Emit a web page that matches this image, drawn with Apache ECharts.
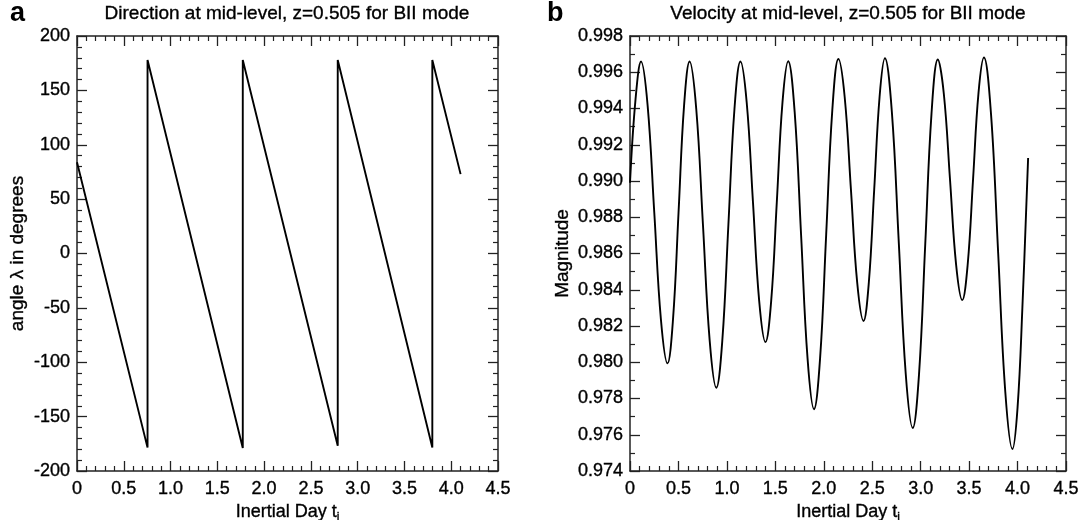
<!DOCTYPE html>
<html>
<head>
<meta charset="utf-8">
<script src="https://cdn.jsdelivr.net/npm/echarts@6/dist/echarts.min.js"></script>
<style>
  html, body { margin: 0; padding: 0; background: #fff; }
  #chart { width: 1085px; height: 520px; }
</style>
</head>
<body>
<div id="chart"></div>
<script>
// panel a: direction (sawtooth, vertical jumps kept as repeated t)
const dirT = [0, 0.754, 0.754, 1.772, 1.772, 2.787, 2.787, 3.798, 3.798, 4.10];
const dirV = [84, -178.5, 178, -178.8, 178, -176.8, 178, -178.3, 178, 73];

// panel b: velocity magnitude (peaks, troughs and flanks)
const velT = [
  0, 0.057, 0.114, 0.182, 0.2505, 0.319, 0.387,
  0.444, 0.501, 0.558, 0.615, 0.684, 0.753, 0.822, 0.891,
  0.953, 1.0155, 1.078, 1.140, 1.2045, 1.269, 1.3335, 1.398,
  1.457, 1.5155, 1.574, 1.633, 1.6995, 1.766, 1.8325, 1.899,
  1.962, 2.025, 2.088, 2.151, 2.216, 2.2805, 2.345, 2.410,
  2.465, 2.5205, 2.576, 2.631, 2.703, 2.7745, 2.846, 2.918,
  2.983, 3.0475, 3.112, 3.177, 3.240, 3.303, 3.366, 3.429,
  3.485, 3.541, 3.597, 3.653, 3.7265, 3.800, 3.8735, 3.947,
  4.000, 4.050, 4.109
];
const velV = [
  0.9899, 0.9945, 0.99659, 0.99416, 0.98826, 0.98237, 0.97994,
  0.98237, 0.98826, 0.99416, 0.99659, 0.99396, 0.98759, 0.98122, 0.97859,
  0.98122, 0.98759, 0.99396, 0.99659, 0.99433, 0.98885, 0.98337, 0.98111,
  0.98337, 0.98886, 0.99435, 0.99661, 0.99381, 0.98701, 0.98021, 0.97741,
  0.98023, 0.98707, 0.99391, 0.99673, 0.99462, 0.98951, 0.98439, 0.98228,
  0.98440, 0.98953, 0.99465, 0.99677, 0.99379, 0.98657, 0.97935, 0.97637,
  0.97934, 0.98654, 0.99373, 0.99670, 0.99476, 0.99007, 0.98537, 0.98343,
  0.98538, 0.99012, 0.99486, 0.99681, 0.99366, 0.98601, 0.97836, 0.97521,
  0.97750, 0.98303, 0.99127
];

const xMin = 0, xMax = 4.5, xStep = 0.5;
const dirMin = -200, dirMax = 200, dirStep = 50;
const velMin = 0.974, velMax = 0.998, velStep = 0.002;

const FONT = 'Liberation Sans, Arial, Helvetica, sans-serif';
const INK = '#000';

function pairs(xs, ys) {
  return xs.map((x, i) => [x, ys[i]]);
}

// heavier-looking text, the original uses a medium Helvetica
const thick = { textBorderColor: INK, textBorderWidth: 0.35 };

function xAx(grid, pos, showLabel, name) {
  return {
    type: 'value', gridIndex: grid, position: pos,
    min: xMin, max: xMax, interval: xStep,
    axisLine: { show: true, onZero: false, lineStyle: { color: '#222', width: 1.5 } },
    axisTick: { show: true, inside: true, length: 10, lineStyle: { color: '#222', width: 1.3 } },
    minorTick: { show: true, splitNumber: 5, length: 5, lineStyle: { color: '#222', width: 1.2 } },
    splitLine: { show: false },
    axisLabel: Object.assign({
      show: showLabel, color: INK, fontSize: 18, fontFamily: FONT, margin: 9,
      formatter: v => (v === 0 ? '0' : v.toFixed(1))
    }, thick),
    name: name || '', nameLocation: 'middle', nameGap: 30,
    nameTextStyle: {
      color: INK, fontSize: 18, fontFamily: FONT,
      rich: {
        m: Object.assign({ fontSize: 18, fontFamily: FONT, color: INK }, thick),
        s: Object.assign({ fontSize: 12, fontFamily: FONT, color: INK, padding: [10, 0, 0, 0] }, thick)
      }
    }
  };
}

function yAx(grid, pos, showLabel, mn, mx, step, minor, fmt, name, gap) {
  return {
    type: 'value', gridIndex: grid, position: pos,
    min: mn, max: mx, interval: step,
    axisLine: { show: true, onZero: false, lineStyle: { color: '#222', width: 1.5 } },
    axisTick: { show: true, inside: true, length: 10, lineStyle: { color: '#222', width: 1.3 } },
    minorTick: { show: true, splitNumber: minor, length: 5, lineStyle: { color: '#222', width: 1.2 } },
    splitLine: { show: false },
    axisLabel: Object.assign({ show: showLabel, color: INK, fontSize: 18, fontFamily: FONT, margin: 7, formatter: fmt }, thick),
    name: name || '', nameLocation: 'middle', nameGap: gap || 0,
    nameTextStyle: Object.assign({ color: INK, fontSize: 19, fontFamily: FONT }, thick)
  };
}

const chart = echarts.init(document.getElementById('chart'));

chart.setOption({
  backgroundColor: '#fff',
  animation: false,
  grid: [
    { left: 77, top: 36, width: 421, height: 435, outerBoundsMode: 'none', containLabel: false },
    { left: 630, top: 36, width: 436, height: 435, outerBoundsMode: 'none', containLabel: false }
  ],
  xAxis: [
    xAx(0, 'bottom', true, '{m|Inertial Day t}{s|i}'),
    xAx(0, 'top', false),
    xAx(1, 'bottom', true, '{m|Inertial Day t}{s|i}'),
    xAx(1, 'top', false)
  ],
  yAxis: [
    yAx(0, 'left', true, dirMin, dirMax, dirStep, 5, v => String(v), 'angle λ in degrees', 50),
    yAx(0, 'right', false, dirMin, dirMax, dirStep, 5, v => String(v)),
    yAx(1, 'left', true, velMin, velMax, velStep, 2, v => v.toFixed(3), 'Magnitude', 58),
    yAx(1, 'right', false, velMin, velMax, velStep, 2, v => v.toFixed(3))
  ],
  graphic: [
    { type: 'text', left: 10, top: 0, style: { text: 'a', font: 'bold 27px ' + FONT, fill: INK } },
    { type: 'text', left: 547, top: 0, style: { text: 'b', font: 'bold 27px ' + FONT, fill: INK } },
    { type: 'text', x: 287, y: 14, style: { text: 'Direction at mid-level, z=0.505 for BII mode', font: '19px ' + FONT, fill: INK, stroke: INK, lineWidth: 0.35, textAlign: 'center', textVerticalAlign: 'middle' } },
    { type: 'text', x: 848, y: 14, style: { text: 'Velocity at mid-level, z=0.505 for BII mode', font: '19px ' + FONT, fill: INK, stroke: INK, lineWidth: 0.35, textAlign: 'center', textVerticalAlign: 'middle' } }
  ],
  series: [
    {
      type: 'line', xAxisIndex: 0, yAxisIndex: 0,
      data: pairs(dirT, dirV),
      showSymbol: false, lineStyle: { color: INK, width: 1.9 }
    },
    {
      type: 'line', xAxisIndex: 2, yAxisIndex: 2,
      data: pairs(velT, velV),
      showSymbol: false, smooth: 0.4,
      lineStyle: { color: INK, width: 1.9 }
    }
  ]
});
</script>
</body>
</html>
